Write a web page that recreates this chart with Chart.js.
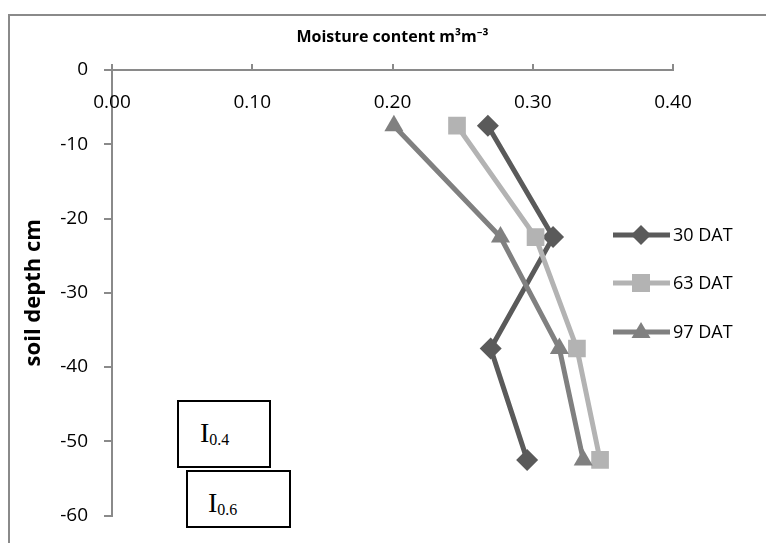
<!DOCTYPE html>
<html>
<head>
<meta charset="utf-8">
<script src="https://cdn.jsdelivr.net/npm/chart.js@4"></script>
<style>
 html,body{margin:0;padding:0;background:#fff;overflow:hidden;}
 #wrap{position:relative;width:766px;height:543px;}
 #frame{position:absolute;left:8px;top:14px;width:800px;height:600px;border:2px solid #8a8a8a;box-sizing:border-box;}
 canvas{position:absolute;left:0;top:0;}
 .tb{position:absolute;border:2px solid #000;box-sizing:border-box;background:#fff;
  font-family:"Liberation Serif","DejaVu Serif",serif;font-size:28px;color:#000;line-height:1;}
 .tb sub{font-size:16px;vertical-align:-3px;}
</style>
</head>
<body>
<div id="wrap">
 <div id="frame"></div>
 <canvas id="c" width="766" height="543"></canvas>
 <div class="tb" style="left:177px;top:400px;width:94px;height:68px;padding:17px 0 0 21px;">I<sub>0.4</sub></div>
 <div class="tb" style="left:186px;top:470px;width:105px;height:58px;padding:17px 0 0 20px;">I<sub>0.6</sub></div>
</div>
<script>
/* data */
const depths=[-7.5,-22.5,-37.5,-52.5];
const dat30=[0.268,0.3145,0.270,0.296];
const dat63=[0.246,0.302,0.3315,0.348];
const dat97=[0.201,0.277,0.319,0.336];
const seriesNames=["30 DAT","63 DAT","97 DAT"];
const xTicks=[0,0.1,0.2,0.3,0.4];
const yTicks=[0,-10,-20,-30,-40,-50,-60];

const FONT='"Open Sans","Noto Sans",sans-serif';
const colors=["#5a5a5a","#b3b3b3","#808080"];
const styles=["rectRot","rect","triangle"];
const radii=[11,12.5,11];

function pts(xs){
 return xs.map((x,i)=>({x,y:depths[i]}));
}

const sets=[dat30,dat63,dat97].map((d,i)=>({
 label:seriesNames[i],
 data:pts(d),
 showLine:true,
 borderColor:colors[i],
 backgroundColor:colors[i],
 borderWidth:5,
 pointStyle:styles[i],
 pointRadius:radii[i],
 pointBorderWidth:0,
 pointBorderColor:colors[i],
 order:3-i
}));

/* x labels sit under the axis line, inside the plot (excel style) */
const xLabelsBelow={
 id:"xLabelsBelow",
 afterDraw(chart){
  const ctx=chart.ctx,s=chart.scales.x;
  ctx.save();
  ctx.fillStyle="#000";
  ctx.font="19px "+FONT;
  ctx.textAlign="center";
  ctx.textBaseline="middle";
  xTicks.forEach(v=>ctx.fillText(v.toFixed(2),s.getPixelForValue(v),103));
  ctx.restore();
 }
};

/* legend on the right, drawn by hand */
const sideLegend={
 id:"sideLegend",
 afterDraw(chart){
  const ctx=chart.ctx;
  const ys=[235,283,332];
  ctx.save();
  sets.forEach((s,i)=>{
   const y=ys[i];
   ctx.strokeStyle=s.borderColor;
   ctx.lineWidth=5;
   ctx.beginPath();ctx.moveTo(613,y);ctx.lineTo(670,y);ctx.stroke();
   ctx.fillStyle=s.backgroundColor;
   const cx=641;
   ctx.beginPath();
   if(i===0){ctx.moveTo(cx-10,y);ctx.lineTo(cx,y-10);ctx.lineTo(cx+10,y);ctx.lineTo(cx,y+10);}
   else if(i===1){ctx.rect(cx-9,y-9,18,18);}
   else{ctx.moveTo(cx,y-10);ctx.lineTo(cx+9.5,y+6);ctx.lineTo(cx-9.5,y+6);}
   ctx.closePath();ctx.fill();
   ctx.fillStyle="#000";
   ctx.font="18px "+FONT;
   ctx.textBaseline="middle";
   ctx.fillText(s.label,673,y+1);
  });
  ctx.restore();
 }
};

new Chart(document.getElementById("c"),{
 type:"scatter",
 data:{datasets:sets},
 plugins:[xLabelsBelow,sideLegend],
 options:{
  responsive:false,
  animation:false,
  layout:{padding:{left:0,right:93,top:0,bottom:8}},
  plugins:{legend:{display:false},tooltip:{enabled:false}},
  scales:{
   x:{
    type:"linear",position:"top",min:0,max:0.4,
    afterFit(s){s.height=70;},
    afterBuildTicks(s){s.ticks=xTicks.map(v=>({value:v}));},
    grid:{drawOnChartArea:false,tickLength:6,color:"#8a8a8a",lineWidth:2},
    border:{color:"#8a8a8a",width:2},
    ticks:{display:false},
    title:{display:true,text:"Moisture content m³m⁻³",color:"#000",
     font:{family:FONT,size:16,weight:"bold"},padding:{top:28,bottom:0}}
   },
   y:{
    type:"linear",position:"left",min:-60,max:0,
    afterFit(s){s.width=112;},
    afterBuildTicks(s){s.ticks=yTicks.map(v=>({value:v}));},
    grid:{drawOnChartArea:false,tickLength:8,color:"#8a8a8a",lineWidth:2},
    border:{color:"#8a8a8a",width:2},
    ticks:{padding:16,color:"#000",font:{family:FONT,size:19}},
    title:{display:true,text:"soil depth cm",color:"#000",
     font:{family:FONT,size:22,weight:"bold"},padding:{top:21,bottom:0}}
   }
  }
 }
});
</script>
</body>
</html>
